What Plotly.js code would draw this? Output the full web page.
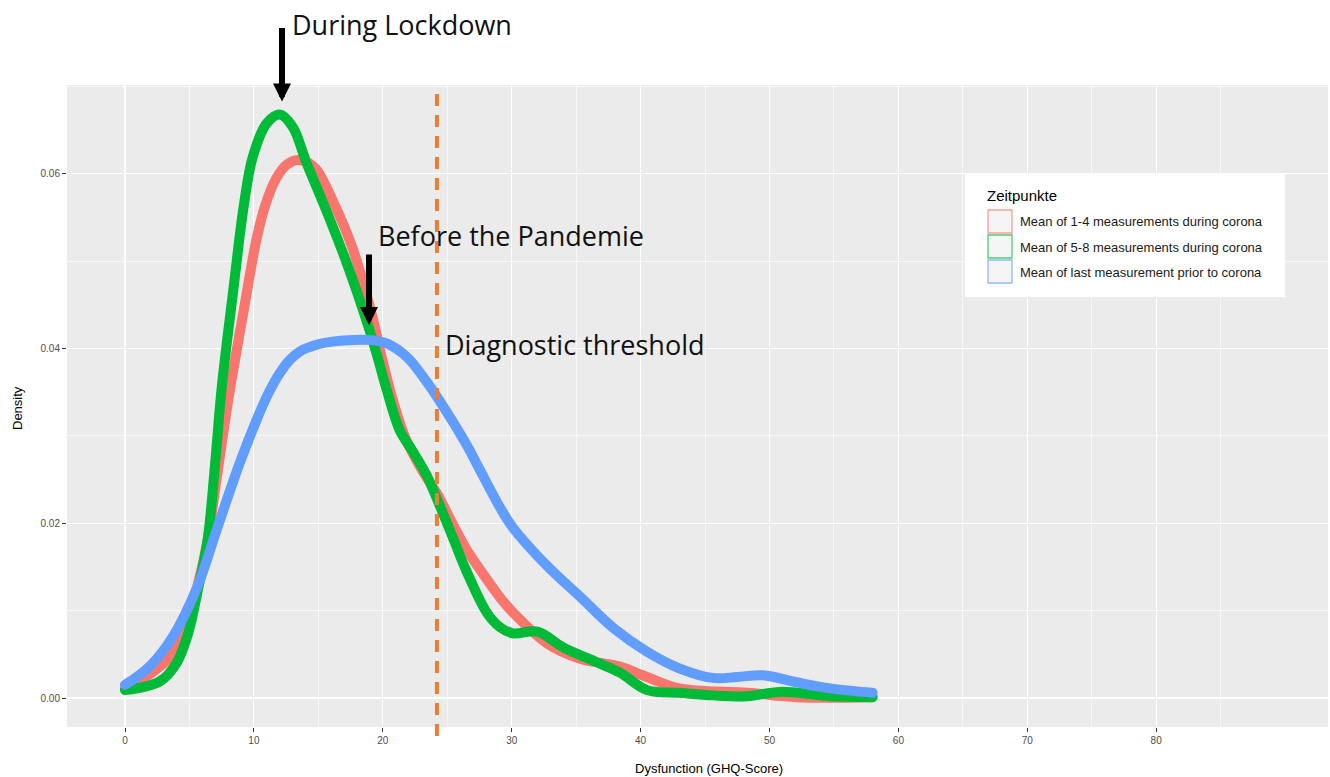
<!DOCTYPE html>
<html><head><meta charset="utf-8">
<script src="https://cdn.plot.ly/plotly-3.0.1.min.js"></script>
<style>
html,body{margin:0;padding:0;background:#fff;}
#chart{width:1330px;height:777px;}
.js-line{stroke-linecap:round !important;stroke-linejoin:round !important;}
</style></head><body><div id="chart"></div>
<script>
// ---- data ----
const seriesNames = [
  'Mean of 1-4 measurements during corona',
  'Mean of 5-8 measurements during corona',
  'Mean of last measurement prior to corona'
];
const seriesColors = ['#F8766D', '#00BA38', '#619CFF'];

const redX = [0, 1.9, 3.5, 4.5, 5.6, 6.4, 7.1, 8.0, 9.2, 10.2, 10.9, 11.7, 12.5, 13.4, 14.3, 14.9, 16.1, 17.7, 19.2, 20.0, 20.8, 21.8, 23.0, 24.2, 25.4, 26.5, 27.5, 29.1, 30.1, 32.7, 35.3, 37.0, 38.4, 40.5, 43.0, 48.3, 52.1, 58.0];
const redY = [0.0011, 0.0027, 0.0047, 0.0074, 0.0127, 0.0180, 0.0250, 0.0340, 0.0443, 0.0525, 0.0565, 0.0594, 0.0610, 0.0616, 0.0612, 0.0604, 0.0570, 0.0513, 0.0436, 0.0385, 0.0340, 0.0296, 0.0262, 0.0234, 0.0200, 0.0170, 0.0148, 0.0115, 0.0098, 0.0063, 0.0045, 0.0040, 0.0036, 0.0024, 0.0011, 0.0006, 0.0001, 0.0001];

const greenX = [0, 2.7, 4.0, 4.9, 5.7, 6.4, 7.0, 7.5, 8.4, 9.2, 9.9, 11.0, 12.0, 13.0, 14.1, 15.7, 17.2, 18.8, 19.6, 20.3, 21.3, 22.3, 23.4, 24.2, 25.4, 26.5, 28.1, 29.1, 30.1, 32.0, 34.0, 36.6, 38.4, 40.5, 43.0, 45.6, 48.3, 50.8, 54.7, 58.0];
const greenY = [0.0009, 0.0019, 0.0040, 0.0074, 0.0127, 0.0180, 0.0270, 0.0355, 0.0467, 0.0562, 0.0619, 0.0658, 0.0668, 0.0654, 0.0612, 0.0555, 0.0498, 0.0429, 0.0390, 0.0353, 0.0307, 0.0283, 0.0255, 0.0228, 0.0185, 0.0145, 0.0097, 0.0081, 0.0074, 0.0076, 0.0058, 0.0041, 0.0029, 0.0009, 0.0006, 0.0003, 0.0002, 0.0007, 0.0002, 0.0001];

const blueX = [0, 1.9, 3.7, 5.6, 7.1, 8.9, 10.2, 11.0, 11.8, 12.6, 13.6, 15.0, 16.1, 18.8, 20.3, 21.9, 23.4, 24.2, 26.5, 27.5, 29.1, 30.1, 32.7, 35.3, 37.9, 40.5, 43.0, 45.6, 47.5, 49.5, 52.1, 54.7, 58.0];
const blueY = [0.0015, 0.0036, 0.0070, 0.0127, 0.0192, 0.0269, 0.0318, 0.0345, 0.0367, 0.0384, 0.0397, 0.0405, 0.0408, 0.0410, 0.0406, 0.0390, 0.0362, 0.0345, 0.0290, 0.0262, 0.0218, 0.0195, 0.0152, 0.0116, 0.0080, 0.0053, 0.0034, 0.0023, 0.0024, 0.0026, 0.0018, 0.0011, 0.0006];

const xTickVals = [0, 10, 20, 30, 40, 50, 60, 70, 80];
const xTickText = ['0', '10', '20', '30', '40', '50', '60', '70', '80'];
const yTickVals = [0, 0.02, 0.04, 0.06];
const yTickText = ['0.00', '0.02', '0.04', '0.06'];
const thresholdX = 24.2;

const legendTitle = 'Zeitpunkte';
const xTitle = 'Dysfunction (GHQ-Score)';
const yTitle = 'Density';
const labelLockdown = 'During Lockdown';
const labelBefore = 'Before the Pandemie';
const labelThreshold = 'Diagnostic threshold';

// ---- layout geometry ----
const W = 1330, H = 777;
const M = {l: 67, r: 2, t: 85, b: 50};
const xRange = [-4.5, 93.33];
const yRange = [-0.00332, 0.07018];
const PW = W - M.l - M.r, PH = H - M.t - M.b;
const px = v => (v - M.l) / PW;          // pixel -> paper x
const py = v => (H - M.b - v) / PH;      // pixel -> paper y
const dataToPaperX = v => (v - xRange[0]) / (xRange[1] - xRange[0]);

const xs = [redX, greenX, blueX];
const ys = [redY, greenY, blueY];
const traces = seriesNames.map((n, i) => ({
  type: 'scatter', mode: 'lines', name: n,
  x: xs[i], y: ys[i],
  line: {color: seriesColors[i], width: 10, shape: 'spline', smoothing: 1},
  showlegend: false, hoverinfo: 'skip'
}));

const shapes = [];
const annotations = [];
const sans = 'Liberation Sans, Arial, sans-serif';

// threshold dashed line
shapes.push({type: 'line', xref: 'paper', yref: 'paper',
  x0: dataToPaperX(thresholdX), x1: dataToPaperX(thresholdX),
  y0: py(736), y1: py(88),
  line: {color: '#ED7D31', width: 4, dash: '12px,9px'}});

// manual legend (ggplot style)
shapes.push({type: 'rect', xref: 'paper', yref: 'paper',
  x0: px(965), x1: px(1285), y0: py(297), y1: py(173),
  fillcolor: '#FFFFFF', line: {width: 0}});
annotations.push({xref: 'paper', yref: 'paper', x: px(985), y: py(196),
  xanchor: 'left', yanchor: 'middle', showarrow: false, text: legendTitle,
  font: {family: sans, size: 15, color: '#000'}});
const keyTops = [210, 235, 260];
seriesNames.forEach((n, i) => {
  shapes.push({type: 'rect', xref: 'paper', yref: 'paper',
    x0: px(988), x1: px(1012), y0: py(keyTops[i] + 23), y1: py(keyTops[i]),
    fillcolor: '#F2F2F2', line: {color: seriesColors[i], width: 1.3}, opacity: 0.7});
  annotations.push({xref: 'paper', yref: 'paper', x: px(1018), y: py(keyTops[i] + 12),
    xanchor: 'left', yanchor: 'middle', showarrow: false, text: n,
    font: {family: sans, size: 13, color: '#1a1a1a'}});
});

// axis titles
annotations.push({xref: 'paper', yref: 'paper', x: px(709), y: py(768),
  xanchor: 'center', yanchor: 'middle', showarrow: false, text: xTitle,
  font: {family: sans, size: 13, color: '#000'}});
annotations.push({xref: 'paper', yref: 'paper', x: px(17), y: py(408),
  xanchor: 'center', yanchor: 'middle', showarrow: false, text: yTitle, textangle: -90,
  font: {family: sans, size: 13, color: '#000'}});

// callout texts
const callFont = {family: 'Open Sans, Noto Sans, sans-serif', size: 27, color: '#111'};
annotations.push({xref: 'paper', yref: 'paper', x: px(290), y: py(24),
  xanchor: 'left', yanchor: 'middle', showarrow: false, text: labelLockdown, font: callFont});
annotations.push({xref: 'paper', yref: 'paper', x: px(376), y: py(235),
  xanchor: 'left', yanchor: 'middle', showarrow: false, text: labelBefore, font: callFont});
annotations.push({xref: 'paper', yref: 'paper', x: px(443), y: py(344),
  xanchor: 'left', yanchor: 'middle', showarrow: false, text: labelThreshold, font: callFont});

// arrows
annotations.push({xref: 'x', yref: 'y', x: 12.18, y: 0.0683, ax: 0, ay: -75,
  text: '', showarrow: true, arrowhead: 2, arrowwidth: 6, arrowsize: 0.6, arrowcolor: '#000'});
annotations.push({xref: 'x', yref: 'y', x: 18.93, y: 0.0427, ax: 0, ay: -72,
  text: '', showarrow: true, arrowhead: 2, arrowwidth: 6, arrowsize: 0.6, arrowcolor: '#000'});

const tickFont = {family: sans, size: 10, color: '#4d4d4d'};
const layout = {
  width: W, height: H, margin: M,
  paper_bgcolor: '#FFFFFF', plot_bgcolor: '#EBEBEB',
  showlegend: false,
  xaxis: {range: xRange, tickmode: 'array', tickvals: xTickVals, ticktext: xTickText,
    showgrid: true, gridcolor: '#FFFFFF', gridwidth: 1.1, zeroline: false,
    ticks: 'outside', ticklen: 4, tickwidth: 1, tickcolor: '#333333', tickfont: tickFont,
    showline: false, fixedrange: true,
    minor: {tickmode: 'linear', tick0: 5, dtick: 10, showgrid: true, gridcolor: '#FFFFFF', gridwidth: 0.6, ticks: ''}},
  yaxis: {range: yRange, tickmode: 'array', tickvals: yTickVals, ticktext: yTickText,
    showgrid: true, gridcolor: '#FFFFFF', gridwidth: 1.1, zeroline: false,
    ticks: 'outside', ticklen: 4, tickwidth: 1, tickcolor: '#333333', tickfont: tickFont,
    showline: false, fixedrange: true,
    minor: {tickmode: 'linear', tick0: 0.01, dtick: 0.02, showgrid: true, gridcolor: '#FFFFFF', gridwidth: 0.6, ticks: ''}},
  shapes: shapes,
  annotations: annotations
};

Plotly.newPlot('chart', traces, layout, {staticPlot: true, displayModeBar: false});
</script></body></html>
